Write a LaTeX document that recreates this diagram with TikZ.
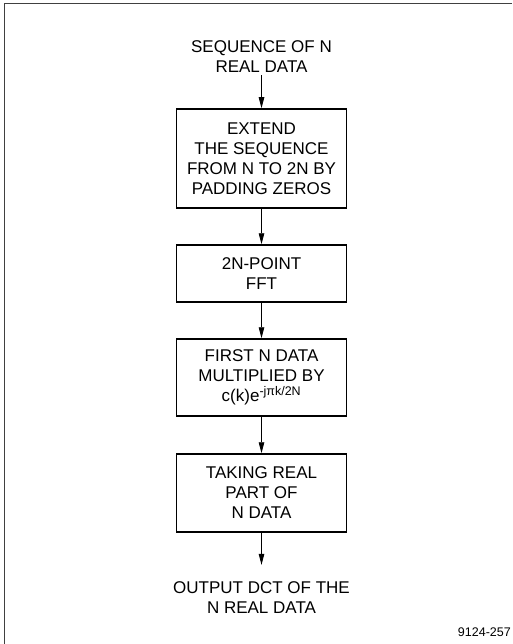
\documentclass[tikz,border=0pt]{standalone}
\usepackage{fontspec}
\setmainfont{Liberation Sans}
\usetikzlibrary{arrows.meta}
\tikzset{
  stepbox/.style={draw, line width=1.5pt, minimum width=170pt, align=center,
    inner sep=2pt, font=\fontsize{17}{20}\selectfont},
  plain/.style={align=center, inner sep=2pt, font=\fontsize{17}{20}\selectfont},
  arr/.style={line width=0.9pt, -{Triangle[length=11pt,width=5.5pt]}},
}
\begin{document}
\begin{tikzpicture}[x=1pt,y=-1pt]
  \useasboundingbox (0,0) rectangle (512,644);
  % page frame (top and left edges)
  \draw[line width=1pt, black!75] (512,3.5) -- (4.5,3.5) -- (4.5,644);

  \node[plain] (src) at (261.5,57) {SEQUENCE OF N\\REAL DATA};
  \node[stepbox, minimum height=99pt] (b1) at (261.5,158.5)
    {EXTEND\\THE SEQUENCE\\FROM N TO 2N BY\\PADDING ZEROS};
  \node[stepbox, minimum height=57pt] (b2) at (261.5,273.5)
    {2N-POINT\\FFT};
  \node[stepbox, minimum height=77pt] (b3) at (261.5,377.5)
    {FIRST N DATA\\MULTIPLIED BY\\c(k)e\textsuperscript{\fontsize{12.5}{14}\selectfont -jπk/2N}};
  \node[stepbox, minimum height=78pt] (b4) at (261.5,493)
    {TAKING REAL\\PART OF\\N DATA};
  \node[plain] (out) at (261.5,598) {OUTPUT DCT OF THE\\N REAL DATA};

  \node[anchor=base east, inner sep=0pt, font=\fontsize{12.5}{14}\selectfont]
    (code) at (511,636) {9124-257};

  \draw[arr] (src) -- (b1);
  \draw[arr] (b1) -- (b2);
  \draw[arr] (b2) -- (b3);
  \draw[arr] (b3) -- (b4);
  \draw[arr, shorten >=15pt] (b4) -- (out);
\end{tikzpicture}
\end{document}
